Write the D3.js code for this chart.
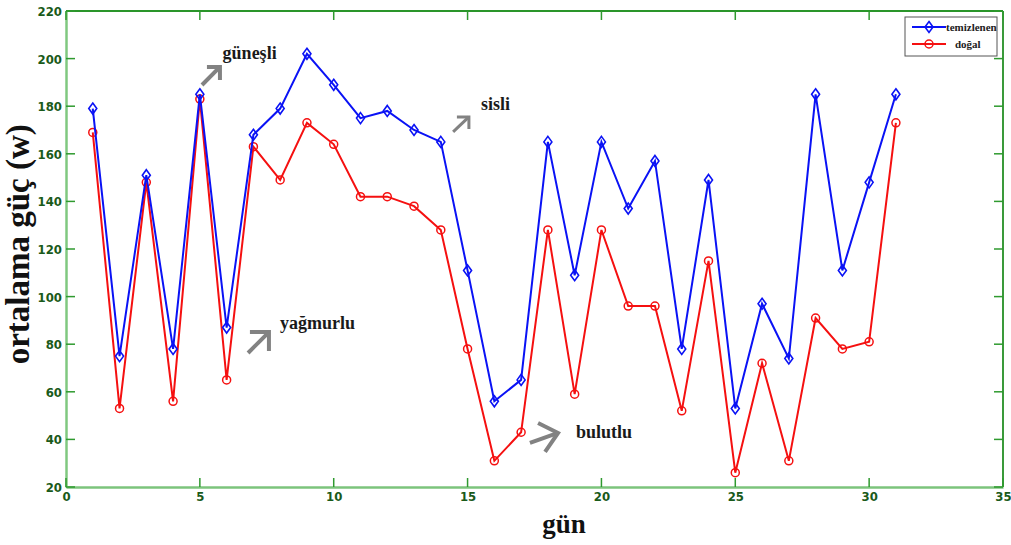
<!DOCTYPE html>
<html><head><meta charset="utf-8">
<script src="https://cdn.jsdelivr.net/npm/d3@7"></script>
<style>
body{margin:0;background:#fff;}
svg{display:block;}
.tick text{font-family:"Liberation Sans Narrow","DejaVu Sans Condensed",Arial,sans-serif;font-weight:bold;font-size:13px;fill:#1a5a1a;}
</style></head>
<body>
<svg id="chart" width="1011" height="545"></svg>
<script>
const days = d3.range(1, 32);
const temizlenen = [179,75,151,78,185,87,168,179,202,189,175,178,170,165,111,56,65,165,109,165,137,157,78,149,53,97,74,185,111,148,185];
const dogal = [169,53,148,56,183,65,163,149,173,164,142,142,138,128,78,31,43,128,59,128,96,96,52,115,26,72,31,91,78,81,173];
const xTicks = [0,5,10,15,20,25,30,35];
const yTicks = [20,40,60,80,100,120,140,160,180,200,220];
const seriesNames = ["temizlenen","doğal"];
const notes = [
  {text:"güneşli", day:5.85, val:199.8},
  {text:"sisli", day:15.5, val:178.3},
  {text:"yağmurlu", day:7.99, val:86.5},
  {text:"bulutlu", day:19.05, val:40.6}
];

const svg = d3.select("#chart");
const L=66, R=1003, T=11, B=487;
const x = d3.scaleLinear().domain([0,35]).range([L,R]);
const y = d3.scaleLinear().domain([20,220]).range([B,T]);

// frame
svg.append("line").attr("x1",L).attr("x2",R).attr("y1",T).attr("y2",T).attr("stroke","#2a952a").attr("stroke-width",2);
svg.append("line").attr("x1",R).attr("x2",R).attr("y1",T).attr("y2",B).attr("stroke","#3a9a3a").attr("stroke-width",2);

const xAxis = svg.append("g").attr("transform",`translate(0,${B})`)
  .call(d3.axisBottom(x).tickValues(xTicks).tickSize(0).tickPadding(5).tickFormat(d3.format("d")));
xAxis.select(".domain").attr("stroke","#7cc47c").attr("stroke-width",2.5);
const yAxis = svg.append("g").attr("transform",`translate(${L},0)`)
  .call(d3.axisLeft(y).tickValues(yTicks).tickSize(0).tickPadding(4).tickFormat(d3.format("d")));
yAxis.select(".domain").attr("stroke","#80c880").attr("stroke-width",2.5);
yAxis.selectAll(".tick text").attr("dy","0.35em");

// inner ticks on all four sides
const tg = svg.append("g").attr("stroke","#2f9a2f").attr("stroke-width",1.5);
yTicks.forEach(v=>{
  tg.append("line").attr("x1",L).attr("x2",L+9).attr("y1",y(v)).attr("y2",y(v));
  tg.append("line").attr("x1",R-9).attr("x2",R).attr("y1",y(v)).attr("y2",y(v));
});
xTicks.forEach(v=>{
  tg.append("line").attr("x1",x(v)).attr("x2",x(v)).attr("y1",B).attr("y2",B-9);
  tg.append("line").attr("x1",x(v)).attr("x2",x(v)).attr("y1",T).attr("y2",T+9);
});

// axis titles
svg.append("text").attr("x",x(18.6)).attr("y",533).attr("text-anchor","middle")
  .attr("font-family","Liberation Serif, Times New Roman, serif").attr("font-weight","bold")
  .attr("font-size",27).attr("fill","#111").text("gün");
svg.append("text").attr("transform",`translate(29,${y(122)}) rotate(-90)`).attr("text-anchor","middle")
  .attr("font-family","Liberation Serif, Times New Roman, serif").attr("font-weight","bold")
  .attr("font-size",33).attr("fill","#111").text("ortalama güç (w)");

// lines
const line = d3.line().x((d,i)=>x(days[i])).y(d=>y(d));
const series = [
  {name:seriesNames[0], vals:temizlenen, color:"#0a12f5", marker:"diamond"},
  {name:seriesNames[1], vals:dogal, color:"#f51010", marker:"circle"}
];
function drawMarker(g, type, cx, cy, color){
  if(type==="diamond"){
    g.append("path").attr("d",`M${cx},${cy-5.5}L${cx+4},${cy}L${cx},${cy+5.5}L${cx-4},${cy}Z`)
      .attr("fill","none").attr("stroke",color).attr("stroke-width",1.6);
  } else {
    g.append("circle").attr("cx",cx).attr("cy",cy).attr("r",4)
      .attr("fill","none").attr("stroke",color).attr("stroke-width",1.5);
  }
}
[series[1],series[0]].forEach(s=>{
  const g = svg.append("g");
  g.append("path").attr("d",line(s.vals)).attr("fill","none").attr("stroke",s.color).attr("stroke-width",2);
  s.vals.forEach((v,i)=>drawMarker(g,s.marker,x(days[i]),y(v),s.color));
});

// annotation arrows
const arrows = [
  {x1:5.08,y1:188.9,x2:5.75,y2:196.5,w:4,s:13},
  {x1:14.46,y1:169.2,x2:15.05,y2:175.5,w:3,s:12},
  {x1:6.80,y1:76.3,x2:7.58,y2:85.1,w:4,s:19},
  {x1:17.33,y1:38.5,x2:18.38,y2:42.7,w:4,s:0}
];
const ag = svg.append("g").attr("stroke","#828282").attr("fill","none").attr("stroke-linecap","butt");
arrows.forEach(a=>{
  const x1=x(a.x1),y1=y(a.y1),x2=x(a.x2),y2=y(a.y2);
  ag.append("line").attr("x1",x1).attr("y1",y1).attr("x2",x2).attr("y2",y2).attr("stroke-width",a.w);
  const p = a.s>0 ? `M${x2-a.s},${y2}L${x2},${y2}L${x2},${y2+a.s}`
                  : `M${x2-20},${y2-10}L${x2},${y2}L${x2-13},${y2+19}`;
  ag.append("path").attr("d",p).attr("stroke-width",a.w).attr("stroke-linejoin","miter");
});
notes.forEach(n=>{
  svg.append("text").attr("x",x(n.day)).attr("y",y(n.val)).attr("font-family","Liberation Serif, Times New Roman, serif")
    .attr("font-weight","bold").attr("font-size",18).attr("fill","#1a1a1a").text(n.text);
});

// legend
const lg = svg.append("g");
lg.append("rect").attr("x",905).attr("y",17).attr("width",92).attr("height",39)
  .attr("fill","#fff").attr("stroke","#555").attr("stroke-width",1);
series.forEach((s,i)=>{
  const ly = 27 + i*17;
  lg.append("line").attr("x1",912).attr("x2",946).attr("y1",ly).attr("y2",ly).attr("stroke",s.color).attr("stroke-width",2);
  drawMarker(lg,s.marker,929,ly,s.color);
  lg.append("text").attr("x",i===0?946:955).attr("y",ly+4).attr("font-family","Liberation Serif, Times New Roman, serif")
    .attr("font-weight","bold").attr("font-size",11).attr("fill","#222").text(s.name);
});
</script>
</body></html>
